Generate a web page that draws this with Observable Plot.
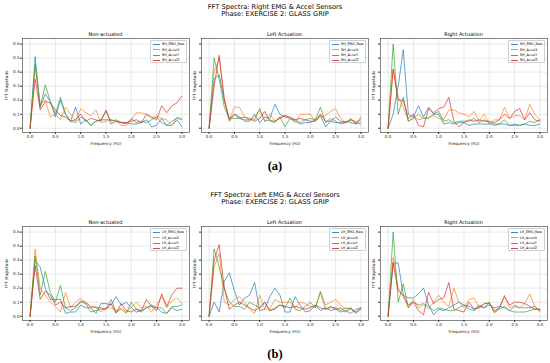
<!DOCTYPE html>
<html><head><meta charset="utf-8">
<script src="https://cdn.jsdelivr.net/npm/d3@7"></script>
<script src="https://cdn.jsdelivr.net/npm/@observablehq/plot@0.6"></script>
<style>
body{margin:0;background:#fff;}
#root{position:relative;width:550px;height:363px;overflow:hidden;font-family:"DejaVu Sans",sans-serif;color:#000;background:#fff}
.maint{position:absolute;left:0;width:550px;text-align:center;font-size:6.7px;line-height:7.4px}
.pt{position:absolute;text-align:center;font-size:5px;line-height:6px}
.sub{position:absolute;left:0;width:550px;text-align:center;font-family:"Liberation Serif",serif;font-weight:bold;font-size:12.5px;line-height:13px}
.leg{position:absolute;background:rgba(255,255,255,0.85);border:0.5px solid #cfcfcf;border-radius:1px;box-sizing:border-box}
.lrow{position:absolute;left:0;height:4px;font-size:3.3px;line-height:4px;white-space:nowrap}
.lsw{position:absolute;left:2px;top:1.6px;width:6.5px;height:0.8px}
.ltx{position:absolute;left:11px;top:0}
.panel{position:absolute}
</style></head><body><div id="root"></div>
<script>
// ---- text ----
const blockTitles = ["FFT Spectra: Right EMG & Accel Sensors", "FFT Spectra: Left EMG & Accel Sensors"];
const phaseTitle = "Phase: EXERCISE 2: GLASS GRIP";
const panelTitles = ["Non-actuated", "Left Actuation", "Right Actuation"];
const subLabels = ["(a)", "(b)"];
const prefixes = ["RH_", "LH_"];
const sensorNames = ["EMG_Raw", "AccelX", "AccelY", "AccelZ"];
const colors = ["#1f77b4", "#ff7f0e", "#2ca02c", "#d62728"];
const xTicks = [0, 0.5, 1.0, 1.5, 2.0, 2.5, 3.0];
const yTicks = [0, 0.1, 0.2, 0.3, 0.4, 0.5, 0.6];
const xLabel = "Frequency (Hz)";
const yLabel = "FFT Magnitude";

// ---- frequencies (Hz) ----
const freqs = [0,0.1,0.2,0.3,0.4,0.5,0.6,0.7,0.8,0.9,1.0,1.1,1.2,1.3,1.4,1.5,1.6,1.7,1.8,1.9,2.0,2.1,2.2,2.3,2.4,2.5,2.6,2.7,2.8,2.9,3.0];

// ---- (a) Right hand, Non-actuated ----
const rhNonEMG = [0,0.51,0.15,0.245,0.19,0.08,0.20,0.10,0.05,0.15,0.03,0.06,0.02,0.05,0.06,0.06,0.06,0.05,0.04,0.04,0.03,0.03,0.04,0.06,0.01,0.02,0.07,0.02,0.02,0.06,0.01];
const rhNonX   = [0,0.44,0.17,0.20,0.08,0.10,0.06,0.15,0.10,0.05,0.14,0.11,0.09,0.13,0.04,0.05,0.06,0.05,0.02,0.02,0.06,0.11,0.11,0.10,0.07,0.09,0.07,0.06,0.02,0.08,0.07];
const rhNonY   = [0,0.46,0.15,0.31,0.19,0.10,0.22,0.10,0.05,0.04,0.08,0.06,0.02,0.05,0.06,0.12,0.05,0.06,0.04,0.03,0.07,0.04,0.05,0.04,0.06,0.08,0.04,0.02,0.05,0.07,0.06];
const rhNonZ   = [0,0.35,0.13,0.19,0.18,0.13,0.09,0.08,0.05,0.06,0.10,0.05,0.07,0.06,0.05,0.13,0.03,0.05,0.04,0.04,0.05,0.06,0.04,0.10,0.08,0.06,0.16,0.11,0.16,0.18,0.23];
// ---- (a) Right hand, Left Actuation ----
const rhLeftEMG = [0,0.35,0.38,0.20,0.07,0.10,0.08,0.05,0.05,0.10,0.04,0.08,0.07,0.17,0.10,0.08,0.07,0.05,0.03,0.04,0.04,0.06,0.09,0.01,0.05,0.04,0.04,0.05,0.04,0.03,0.04];
const rhLeftX   = [0,0.40,0.50,0.22,0.06,0.15,0.15,0.08,0.06,0.08,0.13,0.05,0.10,0.05,0.08,0.09,0.07,0.04,0.10,0.10,0.10,0.05,0.08,0.09,0.12,0.14,0.07,0.04,0.06,0.05,0.02];
const rhLeftY   = [0,0.50,0.35,0.15,0.07,0.07,0.07,0.06,0.06,0.06,0.14,0.05,0.06,0.04,0.08,0.01,0.07,0.06,0.04,0.06,0.07,0.06,0.15,0.04,0.07,0.05,0.03,0.04,0.07,0.03,0.08];
const rhLeftZ   = [0,0.30,0.52,0.20,0.05,0.10,0.07,0.08,0.07,0.05,0.07,0.12,0.05,0.05,0.07,0.09,0.08,0.06,0.07,0.06,0.05,0.05,0.10,0.05,0.05,0.08,0.05,0.04,0.06,0.04,0.06];
// ---- (a) Right hand, Right Actuation ----
const rhRightEMG = [0,0.10,0.30,0.56,0.10,0.08,0.16,0.08,0.15,0.10,0.10,0.03,0.04,0.03,0.04,0.04,0.02,0.03,0.03,0.03,0.03,0.03,0.03,0.03,0.02,0.03,0.02,0.03,0.02,0.02,0.03];
const rhRightX   = [0,0.42,0.22,0.15,0.05,0.08,0.06,0.07,0.08,0.09,0.07,0.06,0.13,0.13,0.11,0.10,0.08,0.12,0.05,0.10,0.03,0.06,0.06,0.15,0.07,0.09,0.09,0.06,0.17,0.10,0.06];
const rhRightY   = [0,0.60,0.10,0.22,0.05,0.07,0.10,0.07,0.07,0.10,0.12,0.05,0.06,0.04,0.05,0.05,0.05,0.07,0.04,0.06,0.04,0.02,0.03,0.06,0.02,0.02,0.02,0.03,0.05,0.04,0.06];
const rhRightZ   = [0,0.42,0.20,0.20,0.07,0.10,0.02,0.01,0.14,0.11,0.14,0.15,0.22,0.05,0.01,0.04,0.06,0.05,0.06,0.05,0.05,0.04,0.06,0.10,0.07,0.12,0.14,0.06,0.11,0.06,0.05];
// ---- (b) Left hand, Non-actuated ----
const lhNonEMG = [0,0.40,0.35,0.20,0.12,0.12,0.12,0.02,0.03,0.03,0.08,0.06,0.06,0.02,0.09,0.09,0.08,0.14,0.08,0.10,0.06,0.03,0.04,0.06,0.07,0.06,0.03,0.02,0.06,0.04,0.05];
const lhNonX   = [0,0.48,0.20,0.15,0.10,0.07,0.03,0.17,0.06,0.10,0.13,0.09,0.06,0.07,0.03,0.06,0.06,0.04,0.06,0.03,0.06,0.10,0.06,0.07,0.03,0.08,0.14,0.06,0.11,0.13,0.09];
const lhNonY   = [0,0.43,0.15,0.32,0.17,0.10,0.22,0.06,0.04,0.06,0.10,0.09,0.03,0.04,0.05,0.05,0.12,0.03,0.05,0.02,0.10,0.05,0.03,0.06,0.08,0.06,0.06,0.02,0.07,0.07,0.08];
const lhNonZ   = [0,0.36,0.12,0.18,0.15,0.08,0.10,0.06,0.07,0.07,0.11,0.10,0.07,0.06,0.06,0.05,0.09,0.02,0.09,0.04,0.03,0.05,0.04,0.12,0.07,0.04,0.16,0.07,0.15,0.20,0.20];
// ---- (b) Left hand, Left Actuation ----
const lhLeftEMG = [0,0.10,0.03,0.25,0.31,0.18,0.08,0.13,0.15,0.24,0.04,0.05,0.14,0.20,0.15,0.03,0.03,0.14,0.08,0.03,0.04,0.08,0.04,0.06,0.04,0.05,0.03,0.04,0.02,0.05,0.06];
const lhLeftX   = [0,0.35,0.45,0.10,0.08,0.12,0.14,0.10,0.05,0.02,0.15,0.05,0.05,0.12,0.10,0.10,0.10,0.06,0.10,0.09,0.07,0.06,0.18,0.08,0.10,0.12,0.08,0.05,0.06,0.03,0.06];
const lhLeftY   = [0,0.48,0.35,0.20,0.10,0.07,0.07,0.05,0.10,0.08,0.06,0.10,0.04,0.06,0.08,0.06,0.13,0.05,0.04,0.07,0.10,0.06,0.17,0.05,0.06,0.06,0.04,0.06,0.05,0.03,0.06];
const lhLeftZ   = [0,0.40,0.51,0.20,0.05,0.08,0.10,0.08,0.06,0.04,0.06,0.10,0.04,0.05,0.08,0.07,0.06,0.07,0.06,0.05,0.06,0.08,0.06,0.05,0.07,0.05,0.06,0.03,0.06,0.02,0.05];
// ---- (b) Left hand, Right Actuation ----
const lhRightEMG = [0,0.38,0.38,0.15,0.13,0.13,0.16,0.20,0.08,0.01,0.05,0.04,0.06,0.08,0.10,0.08,0.07,0.05,0.08,0.06,0.08,0.06,0.07,0.06,0.04,0.07,0.06,0.06,0.06,0.07,0.04];
const lhRightX   = [0,0.42,0.20,0.14,0.06,0.12,0.06,0.08,0.05,0.10,0.15,0.10,0.07,0.20,0.10,0.06,0.12,0.13,0.06,0.09,0.10,0.02,0.06,0.15,0.06,0.08,0.06,0.09,0.16,0.07,0.03];
const lhRightY   = [0,0.60,0.10,0.23,0.06,0.10,0.08,0.09,0.07,0.04,0.06,0.05,0.04,0.04,0.06,0.08,0.05,0.04,0.07,0.06,0.10,0.03,0.05,0.07,0.04,0.03,0.03,0.03,0.04,0.05,0.05];
const lhRightZ   = [0,0.38,0.18,0.15,0.08,0.10,0.04,0.01,0.17,0.09,0.12,0.13,0.24,0.05,0.04,0.03,0.10,0.05,0.06,0.09,0.09,0.04,0.06,0.14,0.08,0.10,0.10,0.09,0.07,0.05,0.05];

const panelsData = [
  [[rhNonEMG, rhNonX, rhNonY, rhNonZ], [rhLeftEMG, rhLeftX, rhLeftY, rhLeftZ], [rhRightEMG, rhRightX, rhRightY, rhRightZ]],
  [[lhNonEMG, lhNonX, lhNonY, lhNonZ], [lhLeftEMG, lhLeftX, lhLeftY, lhLeftZ], [lhRightEMG, lhRightX, lhRightY, lhRightZ]]
];

// ---- layout ----
const root = document.getElementById("root");
const frameLefts = [22, 201, 380];
const frameW = 167;
const blockOffsets = [0, 188];
const svgTop = 30, mTop = 8, mBottom = 18, svgH = 120, mLeft = 22, mRight = 2;
const frameTop = svgTop + mTop;

function addDiv(cls, text, style) {
  const d = document.createElement("div");
  d.className = cls;
  if (text != null) d.textContent = text;
  Object.assign(d.style, style);
  root.appendChild(d);
  return d;
}

blockOffsets.forEach((off, b) => {
  const t = addDiv("maint", null, {top: (3.5 + off) + "px"});
  const l1 = document.createElement("div"); l1.textContent = blockTitles[b];
  const l2 = document.createElement("div"); l2.textContent = phaseTitle;
  t.appendChild(l1); t.appendChild(l2);
  addDiv("sub", subLabels[b], {top: (160 + off) + "px"});

  panelTitles.forEach((pt, c) => {
    const fl = frameLefts[c];
    addDiv("pt", pt, {left: fl + "px", width: frameW + "px", top: (31 + off) + "px"});
    const labels = sensorNames.map(s => prefixes[b] + s);
    const rows = [];
    panelsData[b][c].forEach((vals, si) => {
      vals.forEach((v, i) => rows.push({f: freqs[i], v, s: labels[si]}));
    });
    const chart = Plot.plot({
      width: mLeft + frameW + mRight, height: svgH,
      marginLeft: mLeft, marginRight: mRight, marginTop: mTop, marginBottom: mBottom,
      style: {background: "transparent", overflow: "visible", fontFamily: "DejaVu Sans"},
      x: {domain: [-0.15, 3.15]},
      y: {domain: [-0.0305, 0.64]},
      color: {domain: labels, range: colors},
      marks: [
        Plot.gridX(xTicks, {stroke: "#b0b0b0", strokeOpacity: 0.55, strokeWidth: 0.5}),
        Plot.gridY(yTicks, {stroke: "#b0b0b0", strokeOpacity: 0.55, strokeWidth: 0.5}),
        Plot.line(rows, {x: "f", y: "v", z: "s", stroke: "s", strokeWidth: 0.8, strokeOpacity: 0.85}),
        Plot.frame({stroke: "#333", strokeWidth: 0.6}),
        Plot.axisX(xTicks, {tickFormat: d3.format(".1f"), tickSize: 2, tickPadding: 1, fontSize: 4.1,
          label: xLabel, labelAnchor: "center", labelArrow: "none", labelOffset: 12, stroke: "#333", fill: "#222"}),
        Plot.axisY(yTicks, {tickFormat: c === 0 ? d3.format(".1f") : () => "", tickSize: 2, tickPadding: 1, fontSize: 4.1,
          label: yLabel, labelAnchor: "center", labelArrow: "none", labelOffset: c === 0 ? 17 : 8, stroke: "#333", fill: "#222"})
      ]
    });
    const wrap = addDiv("panel", null, {left: (fl - mLeft) + "px", top: (svgTop + off) + "px"});
    wrap.appendChild(chart);

    // legend
    const lw = 37, lh = 23;
    const leg = addDiv("leg", null, {left: (fl + frameW - 2 - lw) + "px", top: (frameTop + 2 + off) + "px", width: lw + "px", height: lh + "px"});
    labels.forEach((lab, i) => {
      const r = document.createElement("div");
      r.className = "lrow";
      r.style.top = (1.2 + i * 5.4) + "px";
      r.style.width = lw + "px";
      const sw = document.createElement("div");
      sw.className = "lsw"; sw.style.background = colors[i]; sw.style.opacity = 0.85;
      const tx = document.createElement("div");
      tx.className = "ltx"; tx.textContent = lab;
      r.appendChild(sw); r.appendChild(tx);
      leg.appendChild(r);
    });
  });
});
</script></body></html>
